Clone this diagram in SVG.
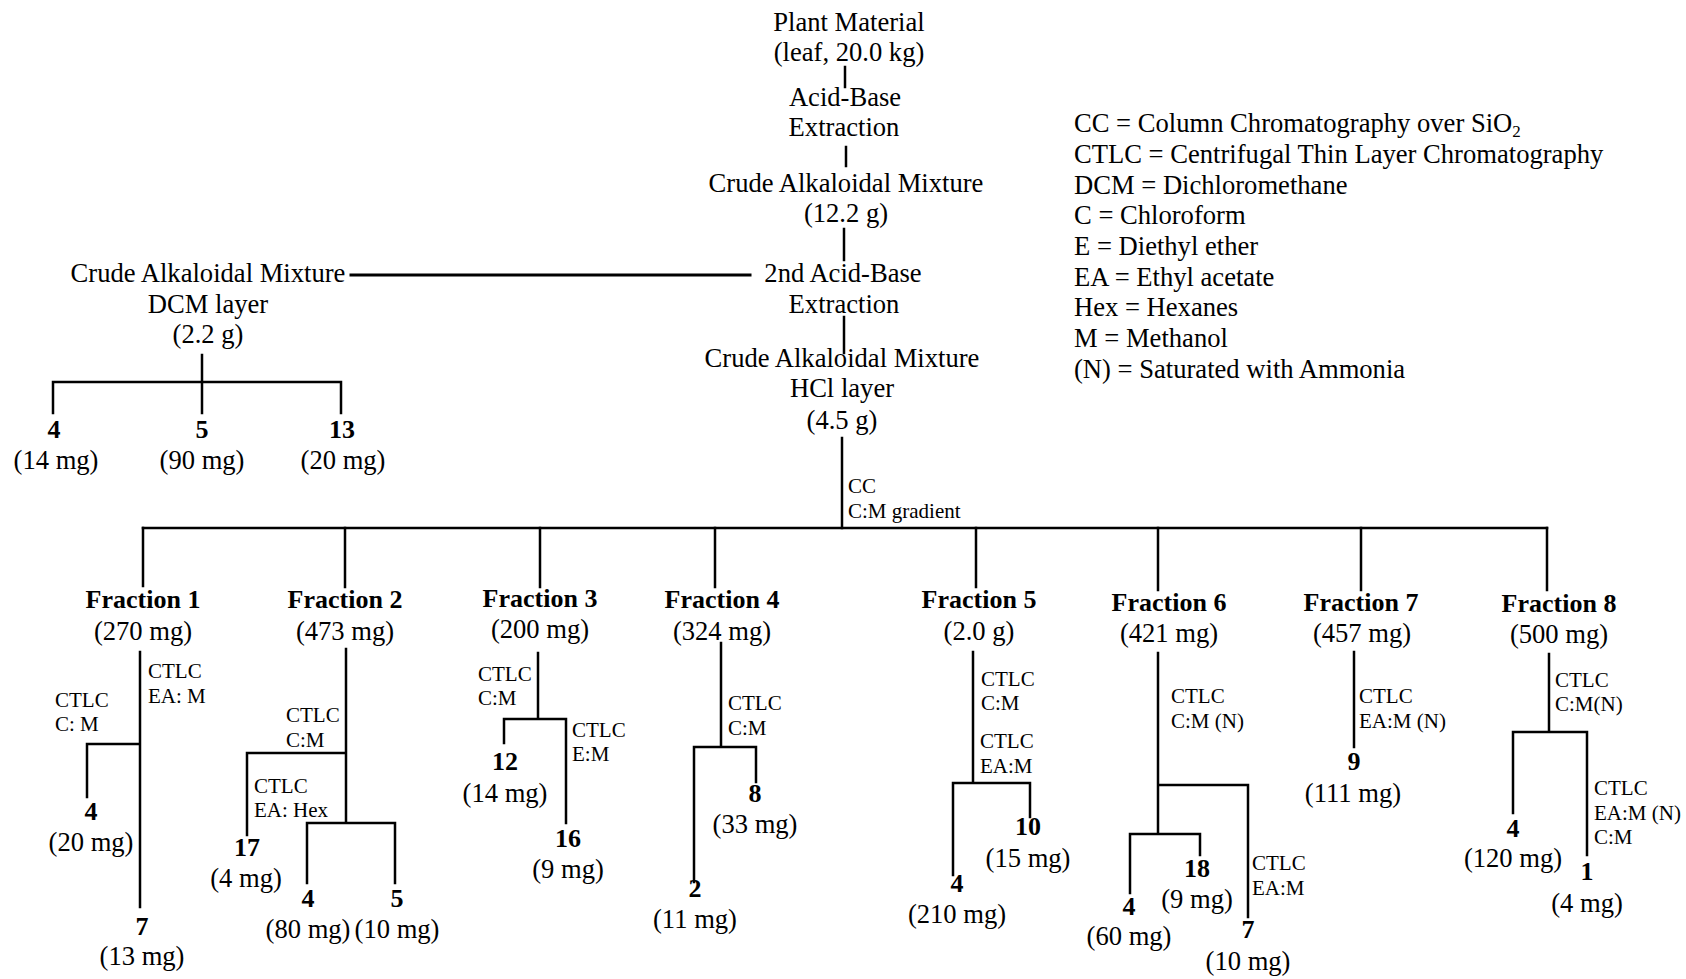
<svg xmlns="http://www.w3.org/2000/svg" width="1686" height="979" viewBox="0 0 1686 979">
<style>
text { font-family: "Liberation Serif", "Times New Roman", serif; fill: #000; }
.m { font-size: 26.6px; text-anchor: middle; }
.b { font-size: 26px; font-weight: bold; text-anchor: middle; }
.s { font-size: 21px; }
.lg { font-size: 26.6px; }
.ln { stroke: #000; stroke-width: 2.5; fill: none; stroke-linecap: square; }
</style>
<rect width="1686" height="979" fill="#fff"/>

<g id="connectors" class="ln">
  <path d="M845 67 V87"/>
  <path d="M846 147 V166"/>
  <path d="M844 229 V260"/>
  <path d="M351 275 H750" stroke-width="3"/>
  <path d="M844 317 V353"/>
  <path d="M842 438 V528"/>
  <path d="M143 528 H1547"/>
  <path d="M143 528 V586 M345 528 V587 M540 528 V587 M715 528 V587 M976 528 V587 M1158 528 V590 M1361 528 V590 M1547 528 V590"/>
  <path d="M202 355 V413 M53 382 H341 M53 382 V413 M341 382 V413"/>
  <path d="M140 652 V907 M87 744 H140 M87 744 V797"/>
  <path d="M346 649 V823 M247 753 H346 M247 753 V835 M307 823 H395 M307 823 V883 M395 823 V883"/>
  <path d="M538 653 V719 M504 719 H566 M504 719 V743 M566 719 V823"/>
  <path d="M721 643 V747 M694 747 H756 M694 747 V882 M756 747 V782"/>
  <path d="M973 652 V783 M953 783 H1030 M953 783 V875 M1030 783 V817"/>
  <path d="M1158 653 V834 M1158 785 H1248 M1248 785 V917 M1130 834 H1200 M1130 834 V893 M1200 834 V855"/>
  <path d="M1354 652 V747"/>
  <path d="M1549 654 V732 M1513 732 H1587 M1513 732 V813 M1587 732 V855"/>
</g>

<g id="plant">
  <text class="m" x="849" y="31">Plant Material</text>
  <text class="m" x="849" y="61">(leaf, 20.0 kg)</text>
</g>
<g id="extraction1">
  <text class="m" x="845" y="106">Acid-Base</text>
  <text class="m" x="844" y="136">Extraction</text>
</g>
<g id="crude1">
  <text class="m" x="846" y="192">Crude Alkaloidal Mixture</text>
  <text class="m" x="846" y="222">(12.2 g)</text>
</g>
<g id="extraction2">
  <text class="m" x="843" y="282">2nd Acid-Base</text>
  <text class="m" x="844" y="313">Extraction</text>
</g>
<g id="dcm">
  <text class="m" x="208" y="282">Crude Alkaloidal Mixture</text>
  <text class="m" x="208" y="313">DCM layer</text>
  <text class="m" x="208" y="343">(2.2 g)</text>
</g>
<g id="dcm-4"><text class="b" x="54" y="438">4</text><text class="m" x="56" y="469">(14 mg)</text></g>
<g id="dcm-5"><text class="b" x="202" y="438">5</text><text class="m" x="202" y="469">(90 mg)</text></g>
<g id="dcm-13"><text class="b" x="342" y="438">13</text><text class="m" x="343" y="469">(20 mg)</text></g>
<g id="hcl">
  <text class="m" x="842" y="367">Crude Alkaloidal Mixture</text>
  <text class="m" x="842" y="397">HCl layer</text>
  <text class="m" x="842" y="429">(4.5 g)</text>
</g>
<g id="cc-label">
  <text class="s" x="848" y="493">CC</text>
  <text class="s" x="848" y="518">C:M gradient</text>
</g>

<g id="fraction1">
  <text class="b" x="143" y="608">Fraction 1</text>
  <text class="m" x="143" y="640">(270 mg)</text>
  <text class="s" x="148" y="678">CTLC</text>
  <text class="s" x="148" y="703">EA: M</text>
  <text class="s" x="55" y="707">CTLC</text>
  <text class="s" x="55" y="731">C: M</text>
</g>
<g id="f1-4"><text class="b" x="91" y="820">4</text><text class="m" x="91" y="851">(20 mg)</text></g>
<g id="f1-7"><text class="b" x="142" y="935">7</text><text class="m" x="142" y="965">(13 mg)</text></g>

<g id="fraction2">
  <text class="b" x="345" y="608">Fraction 2</text>
  <text class="m" x="345" y="640">(473 mg)</text>
  <text class="s" x="286" y="722">CTLC</text>
  <text class="s" x="286" y="747">C:M</text>
  <text class="s" x="254" y="793">CTLC</text>
  <text class="s" x="254" y="817">EA: Hex</text>
</g>
<g id="f2-17"><text class="b" x="247" y="856">17</text><text class="m" x="246" y="887">(4 mg)</text></g>
<g id="f2-4"><text class="b" x="308" y="907">4</text><text class="m" x="308" y="938">(80 mg)</text></g>
<g id="f2-5"><text class="b" x="397" y="907">5</text><text class="m" x="397" y="938">(10 mg)</text></g>

<g id="fraction3">
  <text class="b" x="540" y="607">Fraction 3</text>
  <text class="m" x="540" y="638">(200 mg)</text>
  <text class="s" x="478" y="681">CTLC</text>
  <text class="s" x="478" y="705">C:M</text>
  <text class="s" x="572" y="737">CTLC</text>
  <text class="s" x="572" y="761">E:M</text>
</g>
<g id="f3-12"><text class="b" x="505" y="770">12</text><text class="m" x="505" y="802">(14 mg)</text></g>
<g id="f3-16"><text class="b" x="568" y="847">16</text><text class="m" x="568" y="878">(9 mg)</text></g>

<g id="fraction4">
  <text class="b" x="722" y="608">Fraction 4</text>
  <text class="m" x="722" y="640">(324 mg)</text>
  <text class="s" x="728" y="710">CTLC</text>
  <text class="s" x="728" y="735">C:M</text>
</g>
<g id="f4-8"><text class="b" x="755" y="802">8</text><text class="m" x="755" y="833">(33 mg)</text></g>
<g id="f4-2"><text class="b" x="695" y="897">2</text><text class="m" x="695" y="928">(11 mg)</text></g>

<g id="fraction5">
  <text class="b" x="979" y="608">Fraction 5</text>
  <text class="m" x="979" y="640">(2.0 g)</text>
  <text class="s" x="981" y="686">CTLC</text>
  <text class="s" x="981" y="710">C:M</text>
  <text class="s" x="980" y="748">CTLC</text>
  <text class="s" x="980" y="773">EA:M</text>
</g>
<g id="f5-10"><text class="b" x="1028" y="835">10</text><text class="m" x="1028" y="867">(15 mg)</text></g>
<g id="f5-4"><text class="b" x="957" y="892">4</text><text class="m" x="957" y="923">(210 mg)</text></g>

<g id="fraction6">
  <text class="b" x="1169" y="611">Fraction 6</text>
  <text class="m" x="1169" y="642">(421 mg)</text>
  <text class="s" x="1171" y="703">CTLC</text>
  <text class="s" x="1171" y="728">C:M (N)</text>
  <text class="s" x="1252" y="870">CTLC</text>
  <text class="s" x="1252" y="895">EA:M</text>
</g>
<g id="f6-18"><text class="b" x="1197" y="877">18</text><text class="m" x="1197" y="908">(9 mg)</text></g>
<g id="f6-4"><text class="b" x="1129" y="915">4</text><text class="m" x="1129" y="945">(60 mg)</text></g>
<g id="f6-7"><text class="b" x="1248" y="938">7</text><text class="m" x="1248" y="970">(10 mg)</text></g>

<g id="fraction7">
  <text class="b" x="1361" y="611">Fraction 7</text>
  <text class="m" x="1362" y="642">(457 mg)</text>
  <text class="s" x="1359" y="703">CTLC</text>
  <text class="s" x="1359" y="728">EA:M (N)</text>
</g>
<g id="f7-9"><text class="b" x="1354" y="770">9</text><text class="m" x="1353" y="802">(111 mg)</text></g>

<g id="fraction8">
  <text class="b" x="1559" y="612">Fraction 8</text>
  <text class="m" x="1559" y="643">(500 mg)</text>
  <text class="s" x="1555" y="687">CTLC</text>
  <text class="s" x="1555" y="711">C:M(N)</text>
  <text class="s" x="1594" y="795">CTLC</text>
  <text class="s" x="1594" y="820">EA:M (N)</text>
  <text class="s" x="1594" y="844">C:M</text>
</g>
<g id="f8-4"><text class="b" x="1513" y="837">4</text><text class="m" x="1513" y="867">(120 mg)</text></g>
<g id="f8-1"><text class="b" x="1587" y="880">1</text><text class="m" x="1587" y="912">(4 mg)</text></g>

<g id="legend">
  <text class="lg" x="1074" y="132">CC = Column Chromatography over SiO<tspan font-size="17" dy="5">2</tspan></text>
  <text class="lg" x="1074" y="163">CTLC = Centrifugal Thin Layer Chromatography</text>
  <text class="lg" x="1074" y="194">DCM = Dichloromethane</text>
  <text class="lg" x="1074" y="224">C = Chloroform</text>
  <text class="lg" x="1074" y="255">E = Diethyl ether</text>
  <text class="lg" x="1074" y="286">EA = Ethyl acetate</text>
  <text class="lg" x="1074" y="316">Hex = Hexanes</text>
  <text class="lg" x="1074" y="347">M = Methanol</text>
  <text class="lg" x="1074" y="378">(N) = Saturated with Ammonia</text>
</g>
</svg>
